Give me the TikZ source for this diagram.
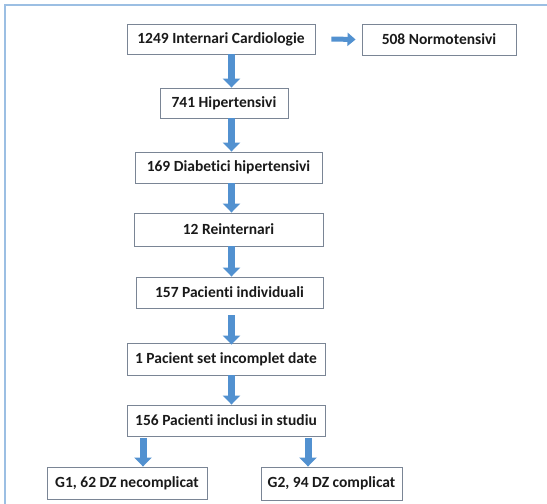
\documentclass[tikz,border=0pt]{standalone}
\usepackage{fontspec}
\setmainfont[Ligatures={NoCommon,NoRare,NoContextual}]{Carlito}
\usetikzlibrary{arrows.meta}
\definecolor{framecol}{HTML}{9CBFE3}
\definecolor{boxgray}{HTML}{7A8595}
\definecolor{arrowblue}{HTML}{5291D0}
\definecolor{textcol}{HTML}{1A1A1A}
\tikzset{
  box/.style={draw=boxgray, line width=0.9pt, fill=white, inner sep=0pt,
    text=textcol, font=\bfseries\fontsize{15.5}{18}\selectfont},
  flow/.style={-{Triangle[width=17pt,length=9pt]}, line width=7pt, draw=arrowblue},
  flowh/.style={-{Triangle[width=13pt,length=8pt]}, line width=5pt, draw=arrowblue}
}
\begin{document}
\begin{tikzpicture}[x=1pt,y=-1pt]
\useasboundingbox (0,0) rectangle (547,504);
% The frame
\draw[framecol,line width=1.3pt] (5,504) -- (5,5) -- (547,5);

% The boxes
\node[box,minimum width=188pt,minimum height=30pt] (b1) at (221,39) {1249 Internari Cardiologie};
\node[box,minimum width=154pt,minimum height=31pt] (norm) at (439,39.5) {508 Normotensivi};
\node[box,minimum width=128pt,minimum height=30pt] (b2) at (224,103) {741 Hipertensivi};
\node[box,minimum width=187pt,minimum height=31pt] (b3) at (228.5,167.5) {169 Diabetici hipertensivi};
\node[box,minimum width=189pt,minimum height=33pt] (b4) at (228.5,229.5) {12 Reinternari};
\node[box,minimum width=187pt,minimum height=31pt] (b5) at (229.5,292.5) {157 Pacienti individuali};
\node[box,minimum width=198pt,minimum height=32pt] (b6) at (226,359) {1 Pacient set incomplet date};
\node[box,minimum width=198pt,minimum height=31pt] (b7) at (226,420.5) {156 Pacienti inclusi in studiu};
\node[box,minimum width=160pt,minimum height=32pt] (g1) at (127,483) {G1, 62 DZ necomplicat};
\node[box,minimum width=141pt,minimum height=33pt] (g2) at (331.5,483.5) {G2, 94 DZ complicat};

% The arrows
\coordinate (ax) at (231.5,0);
\coordinate (gl) at (143,0);
\coordinate (gr) at (308,0);
\draw[flowh] ([xshift=16pt]b1.east) -- ([xshift=-6pt]norm.west);
\foreach \a/\b in {b1/b2,b2/b3,b3/b4,b4/b5}
{
	\draw[flow] (\a.south -| ax) -- (\b.north -| ax);
}
\draw[flow] ([yshift=-7pt]b5.south -| ax) -- ([yshift=-2pt]b6.north -| ax);
\draw[flow] (b6.south -| ax) -- (b7.north -| ax);
\draw[flow] ([yshift=-2pt]b7.south -| gl) -- (g1.north -| gl);
\draw[flow] ([yshift=-2pt]b7.south -| gr) -- (g2.north -| gr);

\end{tikzpicture}
\end{document}
